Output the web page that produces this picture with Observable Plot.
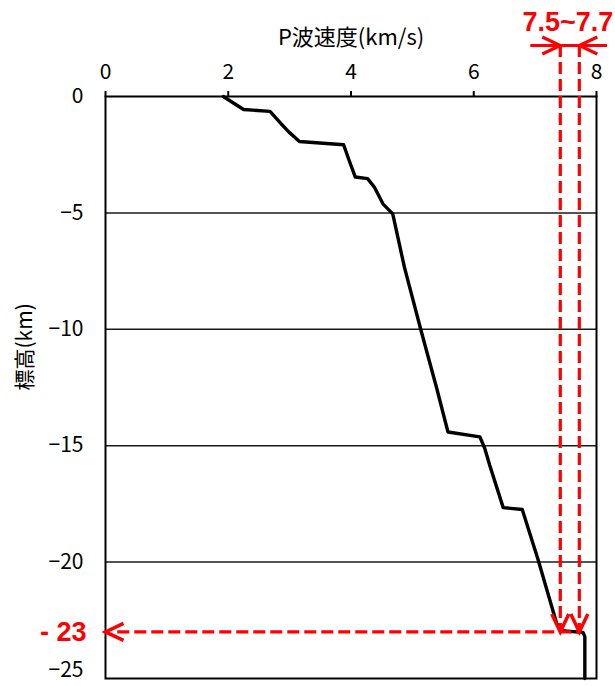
<!DOCTYPE html>
<html>
<head>
<meta charset="utf-8">
<script src="https://cdn.jsdelivr.net/npm/d3@7"></script>
<script src="https://cdn.jsdelivr.net/npm/@observablehq/plot@0.6"></script>
<style>
  body { margin: 0; background: #fff; }
</style>
</head>
<body>
<div id="chart"></div>
<script>
// P-wave velocity profile (km/s) vs elevation (km)
const velocity = [1.92, 2.09, 2.25, 2.68, 2.86, 2.99, 3.16, 3.88, 3.97, 4.07, 4.27, 4.38, 4.52, 4.68,
                  4.87, 5.14, 5.39, 5.58, 6.10, 6.18, 6.26, 6.48, 6.79, 7.05, 7.35, 7.43, 7.78, 7.81, 7.81];
const elevation = [0, -0.29, -0.56, -0.64, -1.17, -1.53, -1.93, -2.07, -2.75, -3.46, -3.53, -3.89, -4.61, -5.04,
                   -7.33, -10.04, -12.47, -14.41, -14.62, -15.12, -15.84, -17.66, -17.74, -19.91, -22.63, -22.95, -23.02, -23.2, -25];

const xTicks = [0, 2, 4, 6, 8];
const yTicks = [0, -5, -10, -15, -20];
const yBottomTick = [-25];
const gridLevels = [-5, -10, -15, -20];

const xTitle = "P波速度(km/s)";
const yTitle = "標高(km)";

// annotation values
const rangeVelocities = [7.41, 7.72];
const rangeLabel = "7.5~7.7";
const rangeBarSpan = [6.93, 8.18];
const boundaryElevation = -23;
const boundaryLabel = "- 23";

const profile = velocity.map((v, i) => ({v, e: elevation[i]}));
const red = "#ff0000";
const chevron = {
  draw(ctx) {
    ctx.moveTo(-8.5, -18);
    ctx.lineTo(0, 0);
    ctx.lineTo(8.5, -18);
  }
};

const chart = Plot.plot({
  width: 615,
  height: 686,
  marginTop: 96,
  marginLeft: 105,
  marginRight: 19,
  marginBottom: 8,
  x: {domain: [0, 8], axis: null},
  y: {domain: [-25, 0], axis: null},
  style: {fontFamily: "'Noto Sans CJK JP', sans-serif", fontSize: "21px", background: "#fff", color: "#000", overflow: "visible"},
  marks: [
    Plot.ruleY(gridLevels, {stroke: "#1a1a1a", strokeWidth: 1.5}),
    Plot.axisX(xTicks, {anchor: "top", tickSize: 6, tickPadding: 12, label: null, fontSize: 21, strokeWidth: 2}),
    Plot.axisY(yTicks, {anchor: "left", tickSize: 0, tickPadding: 22, label: null, fontSize: 21}),
    Plot.axisY(yBottomTick, {anchor: "left", tickSize: 0, tickPadding: 22, label: null, fontSize: 21, dy: -8}),
    Plot.frame({stroke: "#000", strokeWidth: 2}),
    Plot.text([xTitle], {frameAnchor: "top", dy: -59, text: d => d, fontSize: 22, lineAnchor: "middle"}),
    Plot.text([yTitle], {frameAnchor: "left", dx: -80, dy: 3, rotate: -90, text: d => d, fontSize: 21, lineAnchor: "middle"}),
    Plot.line(profile, {x: "v", y: "e", stroke: "#000", strokeWidth: 3.4}),
    // red annotations
    Plot.ruleX(rangeVelocities, {x: d => d, y1: 0, y2: boundaryElevation, insetTop: -51, stroke: red, strokeWidth: 3.2, strokeDasharray: "12,5"}),
    Plot.ruleY([boundaryElevation], {y: d => d, x1: 0.2, x2: rangeVelocities[1], stroke: red, strokeWidth: 3.2, strokeDasharray: "12,5"}),
    Plot.ruleY([0], {x1: rangeBarSpan[0], x2: rangeBarSpan[1], dy: -51, stroke: red, strokeWidth: 3.2}),
    Plot.dot(rangeVelocities, {x: d => d, y: boundaryElevation, symbol: chevron, rotate: 0, fill: "none", stroke: red, strokeWidth: 3.5}),
    Plot.dot([0], {x: d => d, y: boundaryElevation, symbol: chevron, rotate: 90, fill: "none", stroke: red, strokeWidth: 3.5}),
    Plot.dot(rangeVelocities, {x: d => d, frameAnchor: "top", dy: -51, symbol: chevron, rotate: (d, i) => (i === 0 ? -90 : 90), fill: "none", stroke: red, strokeWidth: 3.2}),
    Plot.text([rangeLabel], {x: d3.mean(rangeVelocities), frameAnchor: "top", dy: -74, dx: -2, text: d => d, fill: red, fontSize: 27, fontWeight: "bold", fontFamily: "'Liberation Sans', Arial, sans-serif", lineAnchor: "middle"}),
    Plot.text([boundaryLabel], {x: 0, y: boundaryElevation, dx: -19, textAnchor: "end", text: d => d, fill: red, fontSize: 27, fontWeight: "bold", fontFamily: "'Liberation Sans', Arial, sans-serif", lineAnchor: "middle"})
  ]
});
document.getElementById("chart").appendChild(chart);
</script>
</body>
</html>
